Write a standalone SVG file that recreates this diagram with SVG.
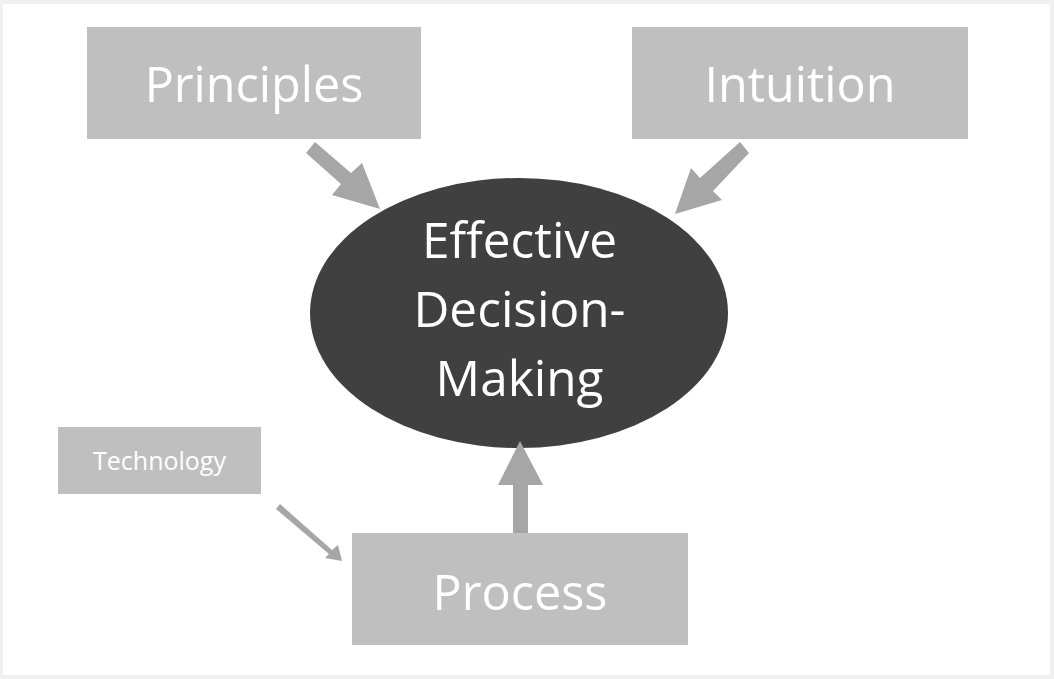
<svg xmlns="http://www.w3.org/2000/svg" width="1054" height="679" viewBox="0 0 1054 679">
<style>
.box{fill:#bfbfbf}
.arr{fill:#a6a6a6}
.t{font-family:"Open Sans","Liberation Sans",sans-serif;fill:#ffffff;text-anchor:middle}
.big{font-size:48.5px}
.mid{font-size:49.5px}
.sm{font-size:25px}
</style>
<rect x="0" y="0" width="1054" height="679" fill="#f0f0f0"/>
<rect x="3" y="4" width="1047" height="671" fill="#ffffff"/>
<g id="principles"><rect class="box" x="87" y="27" width="334" height="112"/><text class="t big" x="254" y="102">Principles</text></g>
<g id="intuition"><rect class="box" x="632" y="27" width="336" height="112"/><text class="t big" x="800" y="102">Intuition</text></g>
<g id="technology"><rect class="box" x="58" y="427" width="203" height="67"/><text class="t sm" x="159.5" y="470">Technology</text></g>
<g id="process"><rect class="box" x="352" y="533" width="336" height="112"/><text class="t big" x="520" y="610">Process</text></g>
<g id="decision"><ellipse cx="519" cy="313" rx="209" ry="135" fill="#404040"/>
<text class="t mid" x="519.5" y="258">Effective</text>
<text class="t mid" x="519.5" y="327">Decision-</text>
<text class="t mid" x="519.5" y="396">Making</text></g>
<g id="connectors">
<polygon class="arr" points="306,153 315,142 351,173 362,163 380,209 332,195 341,184"/>
<polygon class="arr" points="740,142 749,153 713,191 722,200 675,214 691,168 700,178"/>
<polygon class="arr" points="276,509 280,504 332,550 338,545 342,561 325,558 329,554"/>
<polygon class="arr" points="513,533 513,485 498,485 520,441 543,485 528,485 528,533"/>
</g>
</svg>
